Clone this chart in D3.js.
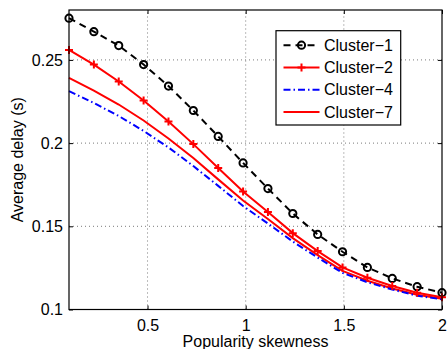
<!DOCTYPE html>
<html>
<head>
<meta charset="utf-8">
<script src="https://cdn.jsdelivr.net/npm/d3@7/dist/d3.min.js"></script>
<style>
  html, body { margin: 0; padding: 0; background: #fff; }
  svg { display: block; font-family: "Liberation Sans", Arial, Helvetica, sans-serif; }
</style>
</head>
<body>
<svg id="chart" width="447" height="349"></svg>
<script>
// Popularity skewness sample points (16 evenly spaced values from 0.1 to 2)
const skewness = [0.1, 0.2267, 0.3533, 0.48, 0.6067, 0.7333, 0.86, 0.9867,
                  1.1133, 1.24, 1.3667, 1.4933, 1.62, 1.7467, 1.8733, 2.0];

// Average delay (s) per clustering configuration
const cluster1 = [0.2751, 0.2670, 0.2586, 0.2472, 0.2343, 0.2196, 0.2040, 0.1881,
                  0.1727, 0.1577, 0.1451, 0.1347, 0.1253, 0.1187, 0.1137, 0.1101];
const cluster2 = [0.2560, 0.2472, 0.2370, 0.2256, 0.2130, 0.1994, 0.1851, 0.1709,
                  0.1586, 0.1459, 0.1351, 0.1253, 0.1191, 0.1141, 0.1101, 0.1073];
const cluster4 = [0.2312, 0.2241, 0.2163, 0.2073, 0.1974, 0.1862, 0.1743, 0.1622,
                  0.1517, 0.1408, 0.1312, 0.1220, 0.1164, 0.1120, 0.1083, 0.1061];
const cluster7 = [0.2392, 0.2316, 0.2232, 0.2136, 0.2028, 0.1910, 0.1782, 0.1655,
                  0.1544, 0.1429, 0.1327, 0.1232, 0.1173, 0.1126, 0.1089, 0.1064];

const seriesNames = ["Cluster\u22121", "Cluster\u22122", "Cluster\u22124", "Cluster\u22127"];
const xTicks = [0.5, 1, 1.5, 2];
const yTicks = [0.1, 0.15, 0.2, 0.25];
const xLabel = "Popularity skewness";
const yLabel = "Average delay (s)";

const series = [
  { name: seriesNames[0], values: cluster1, color: "#000000", dash: "7,5",          marker: "circle" },
  { name: seriesNames[1], values: cluster2, color: "#ff0000", dash: null,           marker: "plus" },
  { name: seriesNames[2], values: cluster4, color: "#0000ff", dash: "7,3,1.5,3",    marker: null },
  { name: seriesNames[3], values: cluster7, color: "#ff0000", dash: null,           marker: null }
];

const FONT = "16px";
const svg = d3.select("#chart");
const margin = { left: 69, right: 5, top: 10, bottom: 39.5 };
const W = 447, H = 349;
const x = d3.scaleLinear().domain([0.1, 2]).range([margin.left, W - margin.right]);
const y = d3.scaleLinear().domain([0.1, 0.28]).range([H - margin.bottom, margin.top]);

const x0 = x.range()[0], x1 = x.range()[1];
const y0 = y.range()[0], y1 = y.range()[1];

// dotted grid
const grid = svg.append("g").attr("stroke", "#7a7a7a").attr("stroke-width", 1)
  .attr("stroke-dasharray", "1,3");
xTicks.filter(t => t < 2).forEach(t => {
  grid.append("line").attr("x1", x(t)).attr("x2", x(t)).attr("y1", y0).attr("y2", y1);
});
yTicks.filter(t => t > 0.1).forEach(t => {
  grid.append("line").attr("x1", x0).attr("x2", x1).attr("y1", y(t)).attr("y2", y(t));
});

// axes with inward ticks
const fmt = d => String(d);
const bottomAxis = d3.axisBottom(x).tickValues(xTicks).tickSize(-4).tickPadding(10).tickFormat(fmt);
const leftAxis = d3.axisLeft(y).tickValues(yTicks).tickSize(-4).tickPadding(6).tickFormat(fmt);
const topAxis = d3.axisTop(x).tickValues(xTicks).tickSize(-4).tickFormat("");
const rightAxis = d3.axisRight(y).tickValues(yTicks).tickSize(-4).tickFormat("");

function styleAxis(g) {
  g.select(".domain").remove();
  g.selectAll(".tick line").attr("stroke", "#000");
  g.selectAll("text").attr("fill", "#000").style("font-size", FONT)
    .style("font-family", "'Liberation Sans', Arial, sans-serif");
}
svg.append("g").attr("transform", `translate(0,${y0})`).call(bottomAxis).call(styleAxis);
svg.append("g").attr("transform", `translate(${x0},0)`).call(leftAxis).call(styleAxis);
svg.append("g").attr("transform", `translate(0,${y1})`).call(topAxis).call(styleAxis);
svg.append("g").attr("transform", `translate(${x1},0)`).call(rightAxis).call(styleAxis);

// data lines
const line = d3.line().x((d, i) => x(skewness[i])).y(d => y(d));
const plot = svg.append("g");
series.slice().reverse().forEach(s => {
  plot.append("path").datum(s.values)
    .attr("fill", "none").attr("stroke", s.color).attr("stroke-width", 2)
    .attr("stroke-dasharray", s.dash)
    .attr("d", line);
});

function drawMarker(g, type, cx, cy, color) {
  if (type === "circle") {
    g.append("circle").attr("cx", cx).attr("cy", cy).attr("r", 3.6)
      .attr("fill", "none").attr("stroke", color).attr("stroke-width", 2);
  } else if (type === "plus") {
    g.append("path").attr("d", `M${cx - 4},${cy}H${cx + 4}M${cx},${cy - 4}V${cy + 4}`)
      .attr("stroke", color).attr("stroke-width", 2).attr("fill", "none");
  }
}
series.forEach(s => {
  if (!s.marker) return;
  s.values.forEach((v, i) => drawMarker(plot, s.marker, x(skewness[i]), y(v), s.color));
});

// box
svg.append("rect").attr("x", x0).attr("y", y1).attr("width", x1 - x0).attr("height", y0 - y1)
  .attr("fill", "none").attr("stroke", "#000").attr("stroke-width", 1.2);

// axis labels
svg.append("text").attr("x", (x0 + x1) / 2).attr("y", 347).attr("text-anchor", "middle")
  .style("font-size", FONT).text(xLabel);
svg.append("text").attr("transform", `translate(23,${(y0 + y1) / 2}) rotate(-90)`)
  .attr("text-anchor", "middle").style("font-size", FONT).text(yLabel);

// legend
const lg = svg.append("g");
const lx = 276, ly = 30.7, lw = 124.7, lh = 94.3;
lg.append("rect").attr("x", lx).attr("y", ly).attr("width", lw).attr("height", lh)
  .attr("fill", "#fff").attr("stroke", "#000").attr("stroke-width", 1.2);
series.forEach((s, i) => {
  const yy = ly + 14.5 + i * 22.3;
  lg.append("line").attr("x1", lx + 7.5).attr("x2", lx + 43.5).attr("y1", yy).attr("y2", yy)
    .attr("stroke", s.color).attr("stroke-width", 2).attr("stroke-dasharray", s.dash);
  drawMarker(lg, s.marker, lx + 25.5, yy, s.color);
  lg.append("text").attr("x", lx + 48).attr("y", yy).attr("dy", "0.35em")
    .style("font-size", FONT).attr("fill", "#000").text(s.name);
});
</script>
</body>
</html>
